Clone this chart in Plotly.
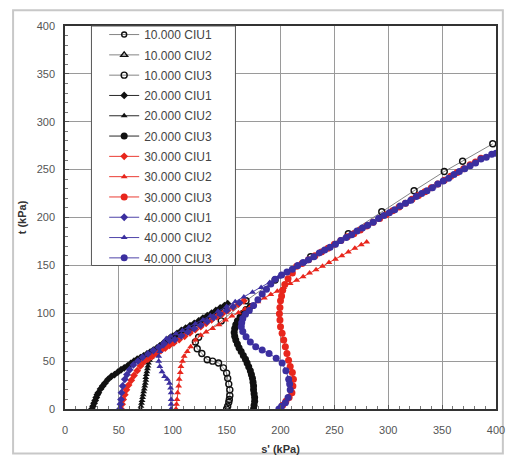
import plotly.graph_objects as go

# ---- stress path data, s' (kPa) vs t (kPa) ----
# 10.000 series (open markers); CIU1 and CIU2 carry no plotted points
s_10_1 = [None]
t_10_1 = [None]
s_10_2 = [None]
t_10_2 = [None]
s_10_3 = [150, 151, 152, 152.5, 153, 153, 152, 151, 150, 147, 142.5, 137, 132, 127, 122.7,
          121, 124, 145, 168, 195, 228, 263, 294, 324, 352, 369, 397]
t_10_3 = [0, 3, 7, 10, 14, 20, 26, 32, 37.5, 43, 48, 50, 51.5, 58, 63,
          70, 75, 92, 113, 134.7, 159, 183, 206, 228, 248, 258.7, 277]

# 20.000 series (black)
s_20_1 = [25, 26, 27, 28, 29, 30, 31, 33, 35, 37, 40, 43, 46, 49, 52, 55, 58, 61, 64, 67, 70,
          73, 76, 79, 82, 85, 88, 91, 94, 97, 100, 104, 108, 112, 116, 120, 124, 128, 132, 136,
          140, 144, 148, 151]
t_20_1 = [0, 3, 6, 9, 12, 15, 17, 21, 24, 27, 31, 34, 36, 38.5, 41, 43, 45, 47.5, 50, 52, 53.5,
          55.5, 57.5, 59.5, 61.5, 63.5, 66, 68.5, 71, 74, 76, 79, 82, 84.5, 87, 89.5, 92, 95, 97.5,
          100, 103, 105.5, 108, 110]
s_20_2 = [70, 70.5, 71, 71.5, 72, 72.5, 73, 73.5, 74, 74.5, 75, 75, 75.5, 76, 76.5, 77, 77.5,
          78.5, 80, 82, 85, 88, 92, 96, 100, 104, 108, 112, 116, 120, 124, 128, 132, 136, 140,
          144, 148]
t_20_2 = [0, 3, 6, 9, 12, 15, 18, 21, 24, 27, 30, 33, 36, 39, 42, 45, 48,
          51, 54, 57, 60, 62.5, 65.5, 68.5, 71.5, 74.5, 77.5, 80.5, 83, 86, 88.5, 91.5, 94.5, 97,
          100, 103, 105.5]
s_20_3 = [175, 175.5, 176, 176, 175.5, 175, 175, 174.5, 174, 173, 172, 170.5, 169, 167.5, 165.5,
          163.5, 161.5, 160, 158.5, 157.5, 157, 157.5, 158.5, 160, 162.5, 165, 168, 172]
t_20_3 = [0, 4, 8, 12, 16, 20, 24, 28, 32, 36, 40, 44, 48, 52, 56,
          60, 64, 68, 72, 76, 80, 84, 88, 92, 96, 100, 104, 107]

# 30.000 series (red)
s_30_1 = [52, 53, 54, 55.5, 57, 59, 61.5, 64, 67, 70, 73, 77, 81, 85, 89, 93, 97, 101, 106, 111,
          116, 121, 126, 131, 136, 141, 146, 151, 156, 161, 166]
t_30_1 = [0, 5, 10, 15, 20, 25, 30, 35, 40, 45, 49, 52, 55, 58, 61, 63.5, 66.5, 69, 72.5, 76,
          79.5, 83, 86, 89.5, 93, 96.5, 99.5, 103, 106, 109.5, 113]
s_30_2 = [103, 103.5, 104, 104.5, 105.5, 106, 107, 107.6, 109, 110.6, 113.5, 116.6, 121, 126,
          131, 137, 143, 149, 155, 161, 167, 173, 179, 185, 191, 197, 203, 209, 215, 221, 227,
          233, 239, 245, 251, 257, 263, 269, 275, 280]
t_30_2 = [0, 5, 10, 17, 24, 31, 38, 44.5, 50, 55, 60, 65, 72, 77,
          80.5, 84, 88, 93, 97, 100.5, 104.5, 108, 112, 116, 119.5, 123, 127, 131, 134.5, 138, 142,
          145.5, 149, 153, 156.5, 160, 164, 168, 171.5, 174.5]
s_30_3 = [200, 202, 205, 208, 210.6, 211.5, 212, 211, 209, 207.5, 206, 204.5, 203, 201.5, 200,
          199.5, 199, 199.5, 200, 201, 202, 204, 207, 211, 215, 220, 226, 232, 238, 244, 250,
          256, 262, 268, 274, 280, 286, 292, 298, 304, 310, 316, 322, 328, 334, 340, 346, 352,
          358, 364, 370, 376, 381, 386]
t_30_3 = [0, 4, 8, 12, 17, 24, 31, 38, 44.5, 51, 58, 65, 72, 79, 86,
          93, 99.5, 106, 113, 118, 124, 130, 136, 142, 149, 152, 156, 160, 164, 168, 172,
          176, 180, 183, 187, 191, 195, 199, 203, 207, 211, 215, 219, 223, 227, 231, 235, 239,
          243, 247, 251, 255, 258, 262]

# 40.000 series (blue)
s_40_1 = [51, 51.5, 52, 52.4, 53.5, 55.5, 57.5, 60, 63.5, 67.6, 72, 77, 82, 87, 92, 97, 102,
          108, 114, 120, 126, 132, 138, 144, 150, 156, 162]
t_40_1 = [0, 5, 10, 17, 24, 31, 36, 41, 46, 50, 54, 57.5, 61, 64.5, 68, 71.5, 72.5,
          76.5, 80.5, 84, 87.5, 91.5, 95.5, 99, 103, 107, 111]
s_40_2 = [98.5, 98.5, 98.5, 98.5, 98, 97, 95, 92.4, 90, 88, 87, 87, 88, 89.4, 91.5, 94, 98, 103,
          109, 115, 121, 128, 135, 142, 150, 158, 166, 174, 182, 190, 198, 206, 214, 222, 230,
          238, 246, 254, 262, 270, 278, 286, 294, 302, 310, 318, 326, 334, 342, 350]
t_40_2 = [0, 5, 10, 17, 22, 27, 31, 34, 39, 44.5, 50, 55, 60, 65, 70, 73.7, 76, 78.5,
          82, 85.5, 89, 93, 97.5, 102, 107, 112, 117, 122, 127, 132, 137.5, 142.5, 148, 153, 159,
          164, 169, 174, 180, 185, 190, 195, 201, 206, 211, 216, 221, 227, 232, 237]
s_40_3 = [198.5, 201, 204.5, 207, 209, 208.5, 207.6, 205, 201.5, 196, 189.4, 183, 177, 172, 168,
          165, 163.6, 164, 165, 167.5, 171, 175, 179, 183, 187, 191, 195, 201, 206, 211, 216,
          221, 226, 231, 236, 241, 246, 251, 256, 261, 266, 271, 276, 281, 286, 291, 296, 301,
          306, 311, 316, 321, 326, 331, 336, 341, 346, 351, 356, 361, 366, 371, 376, 381, 386,
          391, 396, 400]
t_40_3 = [0, 3, 6.5, 12, 20, 26, 31, 40, 48, 53, 58, 61.5, 65, 70, 75.5,
          81, 86, 90, 94.4, 99, 103, 108, 114, 120, 125, 130.5, 135.5, 140, 143, 146, 150,
          153, 156, 159, 163, 166, 169, 172, 176, 179, 182, 186, 189, 192, 195, 199, 202, 205,
          208, 212, 215, 218, 222, 225, 228, 231, 235, 238, 241, 245, 248, 251, 254, 257, 261,
          263, 266, 267]

BLACK = "#111111"
RED = "#e8261c"
BLUE = "#3b2f9f"

series = [
    ("10.000 CIU1", s_10_1, t_10_1, BLACK, "circle-open", 5),
    ("10.000 CIU2", s_10_2, t_10_2, BLACK, "triangle-up-open", 6),
    ("10.000 CIU3", s_10_3, t_10_3, BLACK, "circle-open", 6),
    ("20.000 CIU1", s_20_1, t_20_1, BLACK, "diamond", 6),
    ("20.000 CIU2", s_20_2, t_20_2, BLACK, "triangle-up", 6),
    ("20.000 CIU3", s_20_3, t_20_3, BLACK, "circle", 7),
    ("30.000 CIU1", s_30_1, t_30_1, RED, "diamond", 6),
    ("30.000 CIU2", s_30_2, t_30_2, RED, "triangle-up", 6),
    ("30.000 CIU3", s_30_3, t_30_3, RED, "circle", 7),
    ("40.000 CIU1", s_40_1, t_40_1, BLUE, "diamond", 6),
    ("40.000 CIU2", s_40_2, t_40_2, BLUE, "triangle-up", 6),
    ("40.000 CIU3", s_40_3, t_40_3, BLUE, "circle", 7),
]

fig = go.Figure()
for name, xs, ys, col, sym, size in series:
    open_marker = sym.endswith("-open")
    fig.add_trace(go.Scatter(
        x=xs, y=ys, name=name, legendgroup=name, mode="lines+markers",
        line=dict(color="#777777" if open_marker else col, width=0.9),
        marker=dict(symbol=sym, size=size, color=col,
                    line=dict(color=col, width=1.4 if open_marker else 0)),
    ))

FONT = "Liberation Sans, Arial, sans-serif"
axis_common = dict(
    range=[0, 400], dtick=50, showgrid=True, gridcolor="#9a9a9a", gridwidth=1,
    showline=True, linecolor="#333333", linewidth=1.5, mirror=True,
    ticks="inside", ticklen=4, tickcolor="#555555",
    minor=dict(dtick=10, ticks="inside", ticklen=3, tickcolor="#777777", showgrid=False),
    zeroline=False, tickfont=dict(family=FONT, size=11, color="#555555"),
    fixedrange=True,
)

fig.update_layout(
    width=515, height=464,
    margin=dict(l=65, r=10, t=26, b=51),
    paper_bgcolor="white", plot_bgcolor="white",
    font=dict(family=FONT, color="#444444"),
    xaxis=dict(axis_common, ticklabelstandoff=10,
               title=dict(text="<b>s' (kPa)</b>",
                          font=dict(family=FONT, size=11, color="#333333"),
                          standoff=10)),
    yaxis=dict(axis_common, ticklabelstandoff=6,
               title=dict(text="<b>t (kPa)</b>",
                          font=dict(family=FONT, size=11, color="#333333"),
                          standoff=8)),
    legend=dict(x=(105 - 65) / 440, y=1.0 + 6 / 387, xanchor="left", yanchor="top",
                bgcolor="rgba(0,0,0,0)", borderwidth=0, tracegroupgap=1.3,
                maxheight=400,
                font=dict(family=FONT, size=12, color="#444444"),
                itemwidth=30),
    shapes=[
        # legend frame
        dict(type="rect", xref="paper", yref="paper", layer="above",
             x0=(92 - 65) / 440, x1=(239 - 65) / 440, y0=(413 - 268) / 387, y1=1.0,
             line=dict(color="#555555", width=1), fillcolor="white"),
        # outer chart frame
        dict(type="rect", xref="paper", yref="paper", layer="below",
             x0=(12 - 65) / 440, x1=(512 - 65) / 440, y0=(413 - 458) / 387, y1=(413 - 10) / 387,
             line=dict(color="#c8c8c8", width=2), fillcolor="rgba(0,0,0,0)"),
    ],
)

fig.write_html("out.html")
